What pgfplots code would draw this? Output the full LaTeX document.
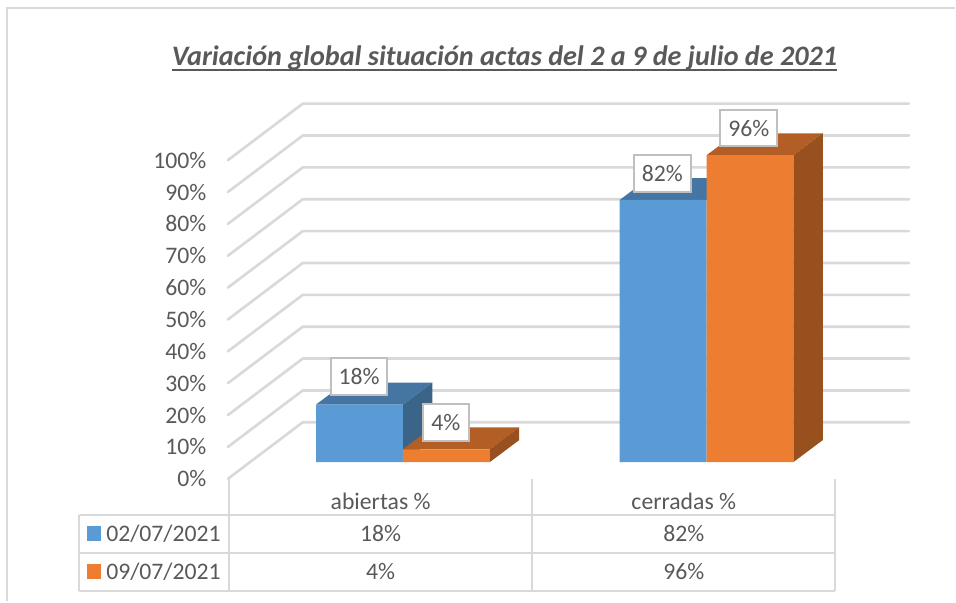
\documentclass[border=0pt]{standalone}
\usepackage{pgfplots}
\pgfplotsset{compat=1.18}
\usepackage{fontspec}
\setmainfont{Carlito}
\definecolor{txt}{HTML}{595959}
\definecolor{gridc}{HTML}{D9D9D9}
\definecolor{boxc}{HTML}{BFBFBF}
\definecolor{blueF}{HTML}{5B9BD5}
\definecolor{blueT}{HTML}{4575A2}
\definecolor{blueS}{HTML}{3B6588}
\definecolor{orangeF}{HTML}{ED7D31}
\definecolor{orangeT}{HTML}{B35E25}
\definecolor{orangeS}{HTML}{98501E}
\newcommand{\fs}{\fontsize{17.8}{20}\selectfont}
\newcommand{\thickul}[1]{\setbox0=\hbox{#1}\rlap{\rule[-4pt]{\wd0}{1.3pt}}\box0}
\tikzset{lab/.style={draw=boxc,line width=1.5pt,fill=white,text=txt,font=\fs,inner sep=0pt,minimum width=42.5pt,minimum height=27.5pt},
cell/.style={text=txt,font=\fs,inner sep=0pt,anchor=center}}
\begin{document}
\begin{tikzpicture}
\begin{axis}[
  scale only axis,width=717pt,height=451.5pt,
  xmin=-1.32664,xmax=1.81809,ymin=-43.59,ymax=144.53,
  clip=false,
  axis line style={draw=none},
  major tick length=0pt,
  title={\thickul{Variación global situación actas del 2 a 9 de julio de 2021}},
  title style={at={(rel axis cs:0.5282,0.8895)},anchor=center,font=\bfseries\itshape\fontsize{21.15}{24}\selectfont,text=txt,inner sep=0pt},
  ytick={-5.25,4.72,14.69,24.66,34.63,44.6,54.57,64.54,74.51,84.48,94.45},
  yticklabels={0\%,10\%,20\%,30\%,40\%,50\%,60\%,70\%,80\%,90\%,100\%},
  yticklabel style={anchor=east,xshift=155pt,inner sep=0pt,font=\fs,text=txt},
  xtick={-0.0734,0.925},
  xticklabels={abiertas \%,cerradas \%},
  xticklabel style={anchor=center,yshift=75pt,inner sep=0pt,font=\fs,text=txt},
]
% walls: grid lines (front, back corner, back end)
\pgfplotsinvokeforeach{-5.25,4.72,14.69,24.66,34.63,44.6,54.57,64.54,74.51,84.48,94.45}{
  \addplot[gridc,line width=2pt,line cap=round,line join=round,forget plot] coordinates {(-0.5766,#1)(-0.3299,#1+17.69)(1.6668,#1+17.69)};
}
% 02/07/2021
\addplot[fill=blueT,draw=none] coordinates {(-0.2862,18)(0,18)(0.0967,24.875)(-0.1895,24.875)} --cycle;
\addplot[fill=blueS,draw=none] coordinates {(0,0)(0,18)(0.0967,24.875)(0.0967,6.875)} --cycle;
\addplot[fill=blueT,draw=none] coordinates {(0.7138,82)(1,82)(1.0967,88.875)(0.8105,88.875)} --cycle;
\addplot[ybar,bar width=0.2862,bar shift=-0.1431,fill=blueF,draw=none] coordinates {(0,18)(1,82)};
% 09/07/2021
\addplot[fill=orangeT,draw=none] coordinates {(0,4)(0.2862,4)(0.3829,10.875)(0.0967,10.875)} --cycle;
\addplot[fill=orangeS,draw=none] coordinates {(0.2862,0)(0.2862,4)(0.3829,10.875)(0.3829,6.875)} --cycle;
\addplot[fill=orangeT,draw=none] coordinates {(1,96)(1.2862,96)(1.3829,102.875)(1.0967,102.875)} --cycle;
\addplot[fill=orangeS,draw=none] coordinates {(1.2862,0)(1.2862,96)(1.3829,102.875)(1.3829,6.875)} --cycle;
\addplot[ybar,bar width=0.2862,bar shift=0.1431,fill=orangeF,draw=none] coordinates {(0,4)(1,96)};
% data labels
\node[lab] at (axis cs:-0.1443,26.8) {18\%};
\node[lab,minimum width=34.5pt] at (axis cs:0.1411,12.4) {4\%};
\node[lab] at (axis cs:0.8542,90.2) {82\%};
\node[lab] at (axis cs:1.1391,104.5) {96\%};
% data table
\draw[gridc,line width=1.6pt] (axis cs:-1.0661,-16.53)--(axis cs:1.4237,-16.53);
\draw[gridc,line width=1.6pt] (axis cs:-1.0661,-28.41)--(axis cs:1.4237,-28.41);
\draw[gridc,line width=1.6pt] (axis cs:-1.0661,-40.28)--(axis cs:1.4237,-40.28);
\draw[gridc,line width=1.6pt] (axis cs:-1.0661,-16.53)--(axis cs:-1.0661,-40.28);
\draw[gridc,line width=1.6pt] (axis cs:-0.5734,-5.25)--(axis cs:-0.5734,-40.28);
\draw[gridc,line width=1.6pt] (axis cs:0.4257,-5.25)--(axis cs:0.4257,-40.28);
\draw[gridc,line width=1.6pt] (axis cs:1.4237,-5.25)--(axis cs:1.4237,-40.28);
% legend keys and names
\fill[blueF] (axis cs:-1.0405,-20.0) rectangle (axis cs:-0.9944,-24.7);
\fill[orangeF] (axis cs:-1.0405,-31.9) rectangle (axis cs:-0.9944,-36.6);
\node[cell,anchor=west] at (axis cs:-0.9780,-22.4) {02/07/2021};
\node[cell,anchor=west] at (axis cs:-0.9780,-34.2) {09/07/2021};
\node[cell] at (axis cs:-0.0734,-22.4) {18\%};
\node[cell] at (axis cs:-0.0734,-34.2) {4\%};
\node[cell] at (axis cs:0.925,-22.4) {82\%};
\node[cell] at (axis cs:0.925,-34.2) {96\%};
% chart frame
\draw[gridc,line width=1.6pt] (axis cs:-1.3036,-43.59)--(axis cs:-1.3036,142.03)--(axis cs:1.81809,142.03);
\end{axis}
\end{tikzpicture}
\end{document}
